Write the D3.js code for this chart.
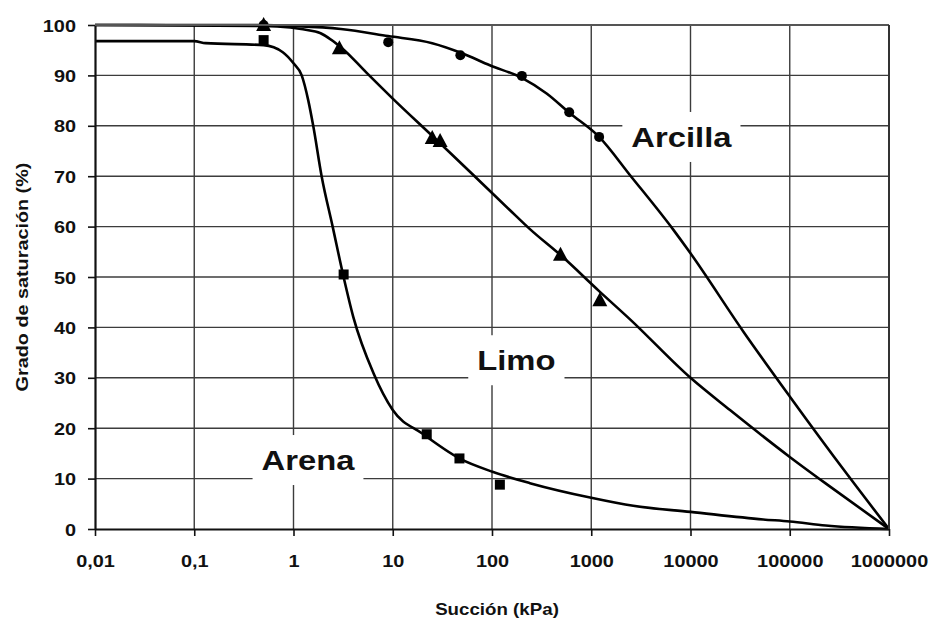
<!DOCTYPE html>
<html>
<head>
<meta charset="utf-8">
<script src="https://cdn.jsdelivr.net/npm/d3@7"></script>
<style>
  html, body { margin: 0; padding: 0; background: #fff; }
  svg { display: block; }
  text { font-family: "Liberation Sans", Arial, sans-serif; font-weight: bold; fill: #111; }
</style>
</head>
<body>
<svg id="chart" width="937" height="621"></svg>
<script>
// Suction (kPa) tick values and their Spanish-formatted labels
const xTickValues = [0.01, 0.1, 1, 10, 100, 1000, 10000, 100000, 1000000];
const xTickLabels = ["0,01", "0,1", "1", "10", "100", "1000", "10000", "100000", "1000000"];
const yTickValues = [0, 10, 20, 30, 40, 50, 60, 70, 80, 90, 100];

// Fitted retention curves: [suction kPa, degree of saturation %]
const arenaCurve = [[0.01, 96.8], [0.1, 96.8], [0.13, 96.4], [0.5, 96.0], [0.78, 94.6], [1.0, 92.4],
  [1.21, 90.0], [1.41, 85.0], [1.58, 80.0], [1.92, 70.0], [2.48, 60.0], [3.18, 50.2], [4.0, 42.1],
  [6.4, 30.9], [10, 23.6], [20, 18.9], [48, 13.9], [103, 11.3], [241, 9.1], [1000, 6.2],
  [2650, 4.6], [10000, 3.4], [54000, 1.9], [100000, 1.5], [230000, 0.7], [1000000, 0]];
const limoCurve = [[0.01, 100], [0.5, 99.8], [1.66, 98.7], [3, 95.6], [5.4, 90.6], [10, 85.4],
  [25, 78.0], [38, 74.6], [82, 68.3], [151, 63.3], [241, 59.5], [500, 54.2], [1200, 47.2],
  [2460, 41.6], [10000, 30.0], [25000, 23.6], [100000, 14.3], [255000, 8.4], [1000000, 0]];
const arcillaCurve = [[0.01, 100], [0.5, 100], [1.0, 99.8], [3, 99.2], [9, 97.8], [25, 96.4],
  [50, 94.4], [95, 92.0], [200, 89.5], [355, 86.4], [600, 82.6], [1200, 77.8], [2460, 70.2],
  [6700, 59.4], [10000, 54.7], [34000, 39.2], [100000, 26.3], [374000, 11.0], [1000000, 0]];

// Measured points
const arenaPoints = [[0.5, 97.0], [3.2, 50.5], [22, 18.8], [47, 14.0], [120, 8.8]];
const limoPoints = [[0.5, 100], [2.9, 95.4], [25, 77.6], [30, 77.0], [490, 54.4], [1220, 45.4]];
const arcillaPoints = [[0.5, 100], [9, 96.6], [48, 94.0], [200, 89.9], [600, 82.7], [1200, 77.8]];

// Curve names and where they are written: [name, suction kPa, saturation %]
const curveLabels = [["Arcilla", 8100, 75.8], ["Limo", 176, 31.5], ["Arena", 1.40, 11.7]];

const svg = d3.select("#chart");
const plotLeft = 95, plotRight = 889, plotTop = 25, plotBottom = 529;
const STRETCH = 1.17;

const x = d3.scaleLog().domain([0.01, 1000000]).range([plotLeft, plotRight]);
const y = d3.scaleLinear().domain([0, 100]).range([plotBottom, plotTop]);

// Grid
const grid = svg.append("g").attr("stroke", "#3c3c3c").attr("stroke-width", 1.4);
grid.selectAll("line.v").data(xTickValues.slice(1)).join("line").attr("class", "v")
  .attr("x1", d => x(d)).attr("x2", d => x(d)).attr("y1", plotTop).attr("y2", plotBottom);
grid.selectAll("line.h").data(yTickValues.slice(1)).join("line").attr("class", "h")
  .attr("y1", d => y(d)).attr("y2", d => y(d)).attr("x1", plotLeft).attr("x2", plotRight);

// Curve names on white boxes
const labelFont = 28;
const labelG = svg.append("g");
curveLabels.forEach(([name, sx, sy]) => {
  const cx = x(sx), base = y(sy);
  const t = labelG.append("text")
    .attr("font-size", labelFont)
    .attr("text-anchor", "middle")
    .attr("transform", `translate(${cx},${base}) scale(${STRETCH},1)`)
    .text(name);
  const w = t.node().getComputedTextLength() * STRETCH;
  labelG.insert("rect", "text")
    .attr("x", cx - w / 2 - 9).attr("y", base - 35)
    .attr("width", w + 18).attr("height", 50)
    .attr("fill", "#fff");
});

// Curves
const line = d3.line().x(d => x(d[0])).y(d => y(d[1])).curve(d3.curveMonotoneX);
const curves = svg.append("g").attr("fill", "none").attr("stroke", "#000")
  .attr("stroke-width", 2.6).attr("stroke-linejoin", "round");
[arenaCurve, limoCurve, arcillaCurve].forEach(c => curves.append("path").attr("d", line(c)));

// Markers
const marks = svg.append("g").attr("fill", "#000");
marks.selectAll("circle").data(arcillaPoints).join("circle")
  .attr("cx", d => x(d[0])).attr("cy", d => y(d[1])).attr("r", 5);
marks.selectAll("rect").data(arenaPoints).join("rect")
  .attr("x", d => x(d[0]) - 5).attr("y", d => y(d[1]) - 5).attr("width", 10).attr("height", 10);
marks.selectAll("path.tri").data(limoPoints).join("path").attr("class", "tri")
  .attr("d", d => {
    const px = x(d[0]), py = y(d[1]);
    return `M${px},${py - 8}L${px + 7.5},${py + 6}L${px - 7.5},${py + 6}Z`;
  });

// Axes
const xAxis = svg.append("g").attr("transform", `translate(0,${plotBottom})`)
  .call(d3.axisBottom(x).tickValues(xTickValues).tickSize(7).tickSizeOuter(0)
    .tickFormat((d, i) => xTickLabels[i]));
const yAxis = svg.append("g").attr("transform", `translate(${plotLeft},0)`)
  .call(d3.axisLeft(y).tickValues(yTickValues).tickSize(7).tickSizeOuter(0));
[xAxis, yAxis].forEach(a => {
  a.attr("font-family", null);
  a.select(".domain").attr("stroke", "#111").attr("stroke-width", 2.2);
  a.selectAll(".tick line").attr("stroke", "#111").attr("stroke-width", 1.6);
  a.selectAll(".tick text").attr("font-size", 17).attr("fill", "#111");
});
xAxis.selectAll(".tick text").attr("y", null).attr("dy", null)
  .attr("transform", `translate(0,38) scale(${STRETCH},1)`);
yAxis.selectAll(".tick text").attr("x", null).attr("dy", null)
  .attr("transform", `translate(-19,6) scale(${STRETCH},1)`);

// Top and right frame
svg.append("line").attr("x1", plotLeft).attr("x2", plotRight).attr("y1", plotTop).attr("y2", plotTop)
  .attr("stroke", "#555").attr("stroke-width", 2);
svg.append("line").attr("x1", plotRight).attr("x2", plotRight).attr("y1", plotTop).attr("y2", plotBottom)
  .attr("stroke", "#333").attr("stroke-width", 2);

// Axis titles
svg.append("text").attr("font-size", 16).attr("text-anchor", "middle")
  .attr("transform", `translate(${(plotLeft + plotRight) / 2 + 5},615) scale(${STRETCH},1)`)
  .text("Succión (kPa)");
svg.append("text").attr("font-size", 16.5).attr("text-anchor", "middle")
  .attr("transform", `translate(28,${(plotTop + plotBottom) / 2}) rotate(-90) scale(1.2,1)`)
  .text("Grado de saturación (%)");
</script>
</body>
</html>
